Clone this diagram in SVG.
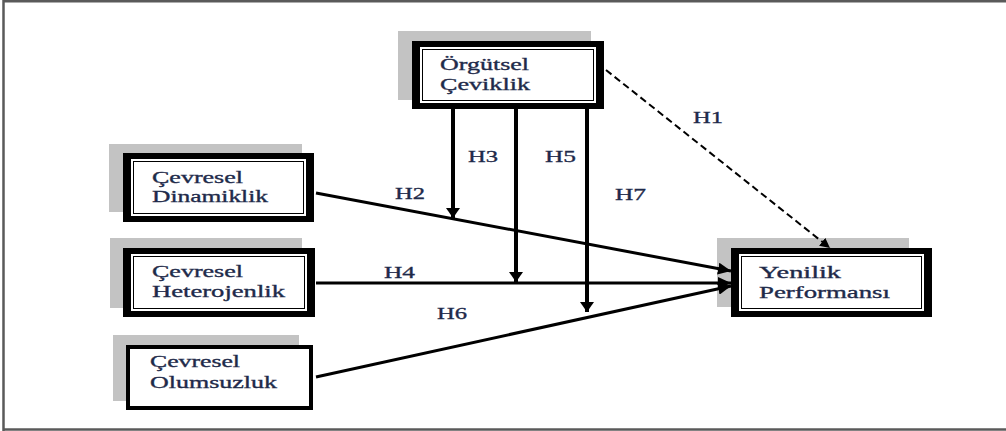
<svg xmlns="http://www.w3.org/2000/svg" width="1006" height="431" viewBox="0 0 1006 431">
<style>
.shadow{fill:#c3c3c3}
.thick{fill:#000}
.white{fill:#fff}
.thin{fill:none;stroke:#000;stroke-width:1}
.single{fill:#fff;stroke:#000;stroke-width:4}
.lbl{font-family:"Liberation Serif","Times New Roman",serif;font-size:17.5px;fill:#1e2a4a;stroke:#1e2a4a;stroke-width:0.35}
.conn{fill:none;stroke:#000;stroke-width:3}
.vert{fill:none;stroke:#000;stroke-width:4}
.dash{fill:none;stroke:#000;stroke-width:2;stroke-dasharray:7 4}
.frame{stroke:#5a5a5a;stroke-width:2.5;fill:none}
</style>
<defs>
<marker id="ah" markerUnits="userSpaceOnUse" markerWidth="14" markerHeight="12" refX="13" refY="6" orient="auto">
<path d="M0,0 L13,6 L0,12 Z" fill="#000"/>
</marker>
<marker id="av" markerUnits="userSpaceOnUse" markerWidth="11" markerHeight="16" refX="10" refY="8" orient="auto">
<path d="M0,1 L10,8 L0,15 Z" fill="#000"/>
</marker>
<marker id="ad" markerUnits="userSpaceOnUse" markerWidth="11" markerHeight="10" refX="10" refY="5" orient="auto">
<path d="M0,0 L10,5 L0,10 Z" fill="#000"/>
</marker>
</defs>
<rect width="1006" height="431" fill="#fff"/>
<g id="frame">
<line class="frame" x1="3" y1="1.2" x2="1006" y2="1.2"/>
<line class="frame" x1="3.5" y1="0" x2="3.5" y2="431"/>
<line class="frame" x1="3" y1="429.5" x2="1006" y2="429.5"/>
</g>
<g id="orgutsel">
<rect class="shadow" x="398" y="31" width="193" height="69"/>
<rect class="thick" x="412" y="41" width="192" height="68"/>
<rect class="white" x="420" y="47" width="176" height="56"/>
<rect class="thin" x="422.5" y="49.5" width="171" height="51"/>
<text class="lbl" x="440" y="70" textLength="89" lengthAdjust="spacingAndGlyphs">Örgütsel</text>
<text class="lbl" x="440" y="90" textLength="90" lengthAdjust="spacingAndGlyphs">Çeviklik</text>
</g>
<g id="dinamiklik">
<rect class="shadow" x="109" y="144" width="193" height="68"/>
<rect class="thick" x="123" y="153" width="191" height="69"/>
<rect class="white" x="131" y="159" width="175" height="57"/>
<rect class="thin" x="133.5" y="161.5" width="170" height="52"/>
<text class="lbl" x="152" y="183" textLength="91" lengthAdjust="spacingAndGlyphs">Çevresel</text>
<text class="lbl" x="152" y="202" textLength="116" lengthAdjust="spacingAndGlyphs">Dinamiklik</text>
</g>
<g id="heterojenlik">
<rect class="shadow" x="110" y="238" width="192" height="70"/>
<rect class="thick" x="123" y="248" width="192" height="69"/>
<rect class="white" x="131" y="254" width="176" height="57"/>
<rect class="thin" x="133.5" y="256.5" width="171" height="52"/>
<text class="lbl" x="152" y="277" textLength="91" lengthAdjust="spacingAndGlyphs">Çevresel</text>
<text class="lbl" x="152" y="297" textLength="133" lengthAdjust="spacingAndGlyphs">Heterojenlik</text>
</g>
<g id="olumsuzluk">
<rect class="shadow" x="113" y="335" width="186" height="66"/>
<rect class="single" x="128" y="347" width="183" height="61"/>
<text class="lbl" x="150" y="367" textLength="90" lengthAdjust="spacingAndGlyphs">Çevresel</text>
<text class="lbl" x="150" y="388" textLength="127" lengthAdjust="spacingAndGlyphs">Olumsuzluk</text>
</g>
<g id="yenilik">
<rect class="shadow" x="717" y="238" width="192" height="69"/>
<rect class="thick" x="731" y="248" width="201" height="69"/>
<rect class="white" x="739" y="254" width="185" height="57"/>
<rect class="thin" x="741.5" y="256.5" width="180" height="52"/>
<text class="lbl" x="759" y="278" textLength="82" lengthAdjust="spacingAndGlyphs">Yenilik</text>
<text class="lbl" x="759" y="298" textLength="131" lengthAdjust="spacingAndGlyphs">Performansı</text>
</g>
<g id="connectors">
<line class="conn" x1="316" y1="193" x2="731" y2="271" marker-end="url(#ah)"/>
<line class="conn" x1="316" y1="283" x2="731" y2="283" marker-end="url(#ah)"/>
<line class="conn" x1="316" y1="377" x2="731" y2="286" marker-end="url(#ah)"/>
<line class="vert" x1="453" y1="109" x2="453" y2="218" marker-end="url(#av)"/>
<line class="vert" x1="516" y1="109" x2="516" y2="282" marker-end="url(#av)"/>
<line class="vert" x1="587" y1="109" x2="587" y2="312" marker-end="url(#av)"/>
<line class="dash" x1="606" y1="70" x2="830" y2="248" marker-end="url(#ad)"/>
<text class="lbl" x="693" y="123" textLength="30" lengthAdjust="spacingAndGlyphs">H1</text>
<text class="lbl" x="395" y="199" textLength="30" lengthAdjust="spacingAndGlyphs">H2</text>
<text class="lbl" x="468" y="162" textLength="30" lengthAdjust="spacingAndGlyphs">H3</text>
<text class="lbl" x="384" y="278" textLength="31" lengthAdjust="spacingAndGlyphs">H4</text>
<text class="lbl" x="545" y="162" textLength="31" lengthAdjust="spacingAndGlyphs">H5</text>
<text class="lbl" x="437" y="319" textLength="30" lengthAdjust="spacingAndGlyphs">H6</text>
<text class="lbl" x="615" y="200" textLength="31" lengthAdjust="spacingAndGlyphs">H7</text>
</g>
</svg>
